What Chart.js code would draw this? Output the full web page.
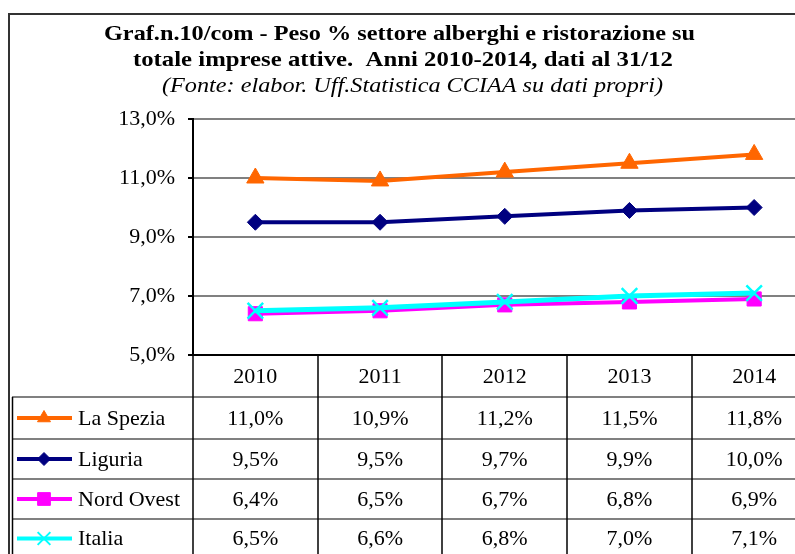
<!DOCTYPE html>
<html>
<head>
<meta charset="utf-8">
<script src="https://cdn.jsdelivr.net/npm/chart.js@4/dist/chart.umd.min.js"></script>
<style>
  html, body { margin: 0; padding: 0; background: #fff; overflow: hidden; }
  #wrap { position: absolute; left: 0; top: 0; width: 830px; height: 554px; }
</style>
</head>
<body>
<div id="wrap"><canvas id="grafico" width="830" height="554"></canvas></div>
<script>
// dati
const anni = ['2010', '2011', '2012', '2013', '2014'];
const laSpezia = [11.0, 10.9, 11.2, 11.5, 11.8];
const liguria = [9.5, 9.5, 9.7, 9.9, 10.0];
const nordOvest = [6.4, 6.5, 6.7, 6.8, 6.9];
const italia = [6.5, 6.6, 6.8, 7.0, 7.1];
const tickY = [5, 7, 9, 11, 13];

const titolo1 = 'Graf.n.10/com - Peso % settore alberghi e ristorazione su';
const titolo2 = 'totale imprese attive.  Anni 2010-2014, dati al 31/12';
const fonte = '(Fonte: elabor. Uff.Statistica CCIAA su dati propri)';

const SERIF = '"Liberation Serif", "Times New Roman", serif';

function perc(v) {
    return v.toFixed(1).replace('.', ',') + '%';
}

function serie(label, data, colore, stile, raggio, spessore, ordine) {
    return {
        label: label,
        data: data,
        borderColor: colore,
        backgroundColor: colore,
        borderWidth: spessore,
        pointStyle: stile,
        pointRadius: raggio,
        pointBorderWidth: stile === 'crossRot' ? 2.5 : 1,
        pointBorderColor: colore,
        pointBackgroundColor: colore,
        tension: 0,
        order: ordine
    };
}

const datasets = [
    serie('La Spezia', laSpezia, '#FF6600', 'triangle', 10, 4, 3),
    serie('Liguria', liguria, '#000080', 'rectRot', 8, 4, 2),
    serie('Nord Ovest', nordOvest, '#FF00FF', 'rect', 10, 4, 1),
    serie('Italia', italia, '#00FFFF', 'crossRot', 11, 5, 0)
];

// testo adattato a una larghezza data
function testoLargo(ctx, txt, x0, x1, y, font) {
    ctx.save();
    ctx.font = font;
    ctx.textBaseline = 'alphabetic';
    ctx.textAlign = 'left';
    const w = ctx.measureText(txt).width;
    ctx.translate(x0, y);
    ctx.scale((x1 - x0) / w, 1);
    ctx.fillText(txt, 0, 0);
    ctx.restore();
}

const tabellaPlugin = {
    id: 'tabella',
    afterDraw(chart) {
        const ctx = chart.ctx;
        const area = chart.chartArea;
        const x = chart.scales.x;
        const larg = (area.right - area.left) / anni.length;
        const righe = [397, 439, 479, 519, 558];

        ctx.save();
        ctx.fillStyle = '#000';

        // titolo
        testoLargo(ctx, titolo1, 104, 695, 40, 'bold 21px ' + SERIF);
        testoLargo(ctx, titolo2, 133, 673, 66, 'bold 21px ' + SERIF);
        testoLargo(ctx, fonte, 162, 663, 92, 'italic 20px ' + SERIF);

        // cornice esterna
        ctx.strokeStyle = '#333';
        ctx.lineWidth = 2;
        ctx.beginPath();
        ctx.moveTo(9, 560);
        ctx.lineTo(9, 14);
        ctx.lineTo(830, 14);
        ctx.stroke();

        // righe orizzontali grigie della tabella
        ctx.strokeStyle = '#808080';
        ctx.lineWidth = 2;
        righe.forEach(function (y) {
            ctx.beginPath();
            ctx.moveTo(12, y);
            ctx.lineTo(area.right, y);
            ctx.stroke();
        });

        // linee verticali nere
        ctx.strokeStyle = '#000';
        ctx.lineWidth = 1.5;
        for (let i = 0; i <= anni.length; i++) {
            const xx = Math.round(area.left + i * larg);
            ctx.beginPath();
            ctx.moveTo(xx, area.bottom);
            ctx.lineTo(xx, 560);
            ctx.stroke();
        }
        ctx.beginPath();
        ctx.moveTo(12.5, righe[0]);
        ctx.lineTo(12.5, 560);
        ctx.stroke();

        // legenda e valori
        ctx.font = '22px ' + SERIF;
        ctx.textBaseline = 'middle';
        chart.data.datasets.forEach(function (ds, r) {
            const ym = (righe[r] + righe[r + 1]) / 2;
            ctx.strokeStyle = ds.borderColor;
            ctx.lineWidth = 4;
            ctx.beginPath();
            ctx.moveTo(17, ym);
            ctx.lineTo(72, ym);
            ctx.stroke();
            ctx.fillStyle = ds.backgroundColor;
            ctx.strokeStyle = ds.borderColor;
            const cross = ds.pointStyle === 'crossRot';
            ctx.lineWidth = cross ? 2 : 1;
            const rad = { triangle: 7.5, rectRot: 6.5, rect: 9, crossRot: 9 }[ds.pointStyle];
            Chart.helpers.drawPoint(ctx, { pointStyle: ds.pointStyle, radius: rad, rotation: 0, borderWidth: ctx.lineWidth }, 44, ym);

            ctx.fillStyle = '#000';
            ctx.textAlign = 'left';
            ctx.fillText(ds.label, 78, ym + 1);
            ctx.textAlign = 'center';
            ds.data.forEach(function (v, i) {
                ctx.fillText(perc(v), x.getPixelForValue(i), ym + 1);
            });
        });
        ctx.restore();
    }
};

new Chart(document.getElementById('grafico'), {
    type: 'line',
    data: { labels: anni, datasets: datasets },
    options: {
        responsive: false,
        animation: false,
        devicePixelRatio: 1,
        layout: { padding: { left: 10, top: 119, right: 12, bottom: 157 } },
        plugins: {
            legend: { display: false },
            title: { display: false },
            tooltip: { enabled: false }
        },
        scales: {
            x: {
                offset: true,
                grid: { display: false, drawTicks: false },
                border: { display: true, color: '#000', width: 2 },
                ticks: {
                    color: '#000',
                    font: { family: SERIF, size: 22 },
                    padding: 9
                },
                afterFit(scale) { scale.height = 42; }
            },
            y: {
                min: 5,
                max: 13,
                afterBuildTicks(scale) {
                    scale.ticks = tickY.map(function (v) { return { value: v }; });
                },
                grid: {
                    color: function (c) { return c.tick && c.tick.value === 5 ? '#000' : '#808080'; },
                    lineWidth: 2,
                    tickLength: 5,
                    tickColor: '#000'
                },
                border: { display: true, color: '#000', width: 2 },
                ticks: {
                    color: '#000',
                    font: { family: SERIF, size: 22 },
                    padding: 13,
                    callback: function (v) { return perc(v); }
                },
                afterFit(scale) { scale.width = 183; }
            }
        }
    },
    plugins: [tabellaPlugin]
});
</script>
</body>
</html>
